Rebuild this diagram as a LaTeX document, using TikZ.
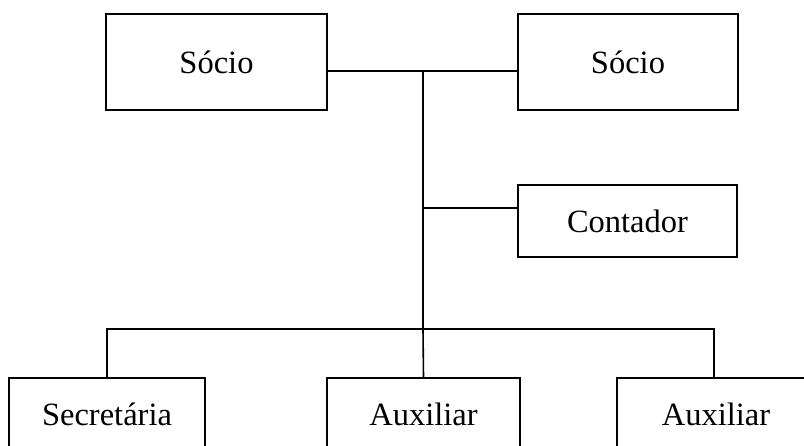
\documentclass[tikz,border=0pt]{standalone}
\usepackage{fontspec}
\setmainfont{Liberation Serif}
\tikzset{cargo/.style={draw, line width=1.6pt, rectangle, inner sep=0pt, font=\fontsize{32.500000}{39.000000}\selectfont}}

\begin{document}
\begin{tikzpicture}[x=1pt, y=-1pt, line width=1.6pt]%
\useasboundingbox (0, 0) rectangle (804, 446);%
\node[cargo, minimum width=221, minimum height=96] (socioA) at (216.500000, 62.000000) {Sócio};%
\node[cargo, minimum width=220, minimum height=96] (socioB) at (628.000000, 62.000000) {Sócio};%
\node[cargo, minimum width=219, minimum height=72] (contador) at (627.500000, 221.000000) {Contador};%
\node[cargo, minimum width=196, minimum height=72] (secretaria) at (107.000000, 414.000000) {Secretária};%
\node[cargo, minimum width=193, minimum height=72] (auxA) at (423.500000, 414.000000) {Auxiliar};%
\node[cargo, minimum width=198, minimum height=72] (auxB) at (716.000000, 414.000000) {Auxiliar};%
\coordinate (socios) at (423.000000, 71.000000);%
\coordinate (meio) at (423.000000, 208.000000);%
\coordinate (base) at (423.000000, 329.000000);%
\coordinate (auxTopo) at (714.000000, 378.000000);%
\draw (socioA.east |- socios) -- (socioB.west |- socios);%
\draw (socios) -- (meio) -- (base) -- (auxA.north);%
\draw (meio) -- (contador.west |- meio);%
\draw (secretaria.north) -- (secretaria.north |- base) -- (auxTopo |- base) -- (auxTopo);%
\end{tikzpicture}
\end{document}
